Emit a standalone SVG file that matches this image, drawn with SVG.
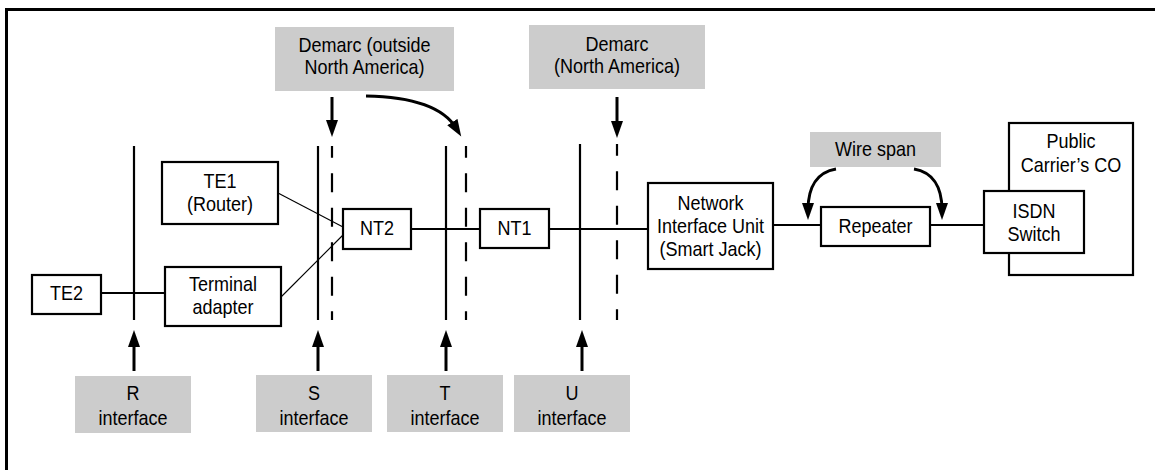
<svg xmlns="http://www.w3.org/2000/svg" width="1155" height="470" viewBox="0 0 1155 470">
  <style>
    text { font-family: "Liberation Sans", Arial, sans-serif; font-size: 20px; fill: #000; text-anchor: middle;
           transform-box: fill-box; transform-origin: center; transform: scaleX(0.9); }
    .box { fill: #fff; stroke: #000; stroke-width: 2.2; }
    .tag { fill: #cccccc; stroke: none; }
    .iface { stroke: #000; stroke-width: 2.2; fill: none; }
    .dash { stroke: #000; stroke-width: 2.2; fill: none; stroke-dasharray: 19 15.5; }
    .link { stroke: #000; stroke-width: 2.2; fill: none; }
    .thin { stroke: #000; stroke-width: 1.1; fill: none; }
    .arrow { stroke: #000; stroke-width: 3; fill: none; marker-end: url(#ah); }
    .frame { stroke: #000; stroke-width: 3; fill: none; }
  </style>
  <defs>
    <marker id="ah" markerUnits="userSpaceOnUse" markerWidth="18" markerHeight="12" refX="7" refY="6" orient="auto">
      <path d="M0,0 L17,6 L0,12 z" fill="#000"/>
    </marker>
  </defs>

  <rect width="1155" height="470" fill="#fff"/>
  <path class="frame" d="M6.5,470 V9.5 H1155"/>

  <!-- reference-point lines (solid) and demarcation lines (dashed) -->
  <g id="interface-lines">
    <line class="iface" x1="134" y1="146" x2="134" y2="320"/>
    <line class="iface" x1="318" y1="146" x2="318" y2="320"/>
    <line class="dash" x1="332" y1="146" x2="332" y2="320" stroke-dashoffset="7.2"/>
    <line class="iface" x1="446" y1="146" x2="446" y2="320"/>
    <line class="dash" x1="466" y1="146" x2="466" y2="320" stroke-dashoffset="7.2"/>
    <line class="iface" x1="580" y1="144" x2="580" y2="320"/>
    <line class="dash" x1="617" y1="144" x2="617" y2="320" stroke-dashoffset="7.2"/>
  </g>

  <!-- connectors -->
  <g id="connectors">
    <line class="link" x1="101" y1="293" x2="165" y2="293"/>
    <line class="thin" x1="278" y1="193" x2="343" y2="227"/>
    <line class="thin" x1="281" y1="297" x2="343" y2="235"/>
    <line class="link" x1="411" y1="229" x2="480" y2="229"/>
    <line class="link" x1="549" y1="229" x2="648" y2="229"/>
    <line class="link" x1="773" y1="225" x2="821" y2="225"/>
    <line class="link" x1="930" y1="225" x2="984" y2="225"/>

    <!-- pointers from the tag boxes -->
    <path class="arrow" d="M332,97 V127"/>
    <path class="arrow" d="M617,97 V128"/>
    <path class="arrow" d="M366,96 C420,97 445,110 456,128"/>
    <path class="arrow" d="M836,169 C818,172 808,186 808,210"/>
    <path class="arrow" d="M914,169 C932,172 942,186 942,210"/>
    <path class="arrow" d="M134,371 V340"/>
    <path class="arrow" d="M318,371 V340"/>
    <path class="arrow" d="M446,371 V340"/>
    <path class="arrow" d="M582,371 V340"/>
  </g>

  <!-- gray tag boxes -->
  <g id="demarc-outside">
    <rect class="tag" x="275" y="27" width="179" height="64"/>
    <text x="364.5" y="52">Demarc (outside</text>
    <text x="364.5" y="74">North America)</text>
  </g>
  <g id="demarc-na">
    <rect class="tag" x="529" y="25" width="176" height="64"/>
    <text x="617" y="51.5">Demarc</text>
    <text x="617" y="73.5">(North America)</text>
  </g>
  <g id="wire-span">
    <rect class="tag" x="810" y="132" width="131" height="35"/>
    <text x="875.5" y="156">Wire span</text>
  </g>
  <g id="r-interface">
    <rect class="tag" x="75" y="376" width="116" height="57"/>
    <text x="133" y="400">R</text>
    <text x="133" y="425">interface</text>
  </g>
  <g id="s-interface">
    <rect class="tag" x="256" y="375" width="116" height="57"/>
    <text x="314" y="400">S</text>
    <text x="314" y="425">interface</text>
  </g>
  <g id="t-interface">
    <rect class="tag" x="387" y="375" width="116" height="57"/>
    <text x="445" y="400">T</text>
    <text x="445" y="425">interface</text>
  </g>
  <g id="u-interface">
    <rect class="tag" x="514" y="375" width="116" height="57"/>
    <text x="572" y="400">U</text>
    <text x="572" y="425">interface</text>
  </g>

  <!-- equipment boxes -->
  <g id="te1">
    <rect class="box" x="162" y="162" width="116" height="62"/>
    <text x="220" y="188">TE1</text>
    <text x="220" y="211">(Router)</text>
  </g>
  <g id="terminal-adapter">
    <rect class="box" x="165" y="267" width="116" height="59"/>
    <text x="223" y="291.5">Terminal</text>
    <text x="223" y="314.5">adapter</text>
  </g>
  <g id="te2">
    <rect class="box" x="32" y="275" width="69" height="39"/>
    <text x="66.5" y="300">TE2</text>
  </g>
  <g id="nt2">
    <rect class="box" x="343" y="209" width="68" height="40"/>
    <text x="377" y="235">NT2</text>
  </g>
  <g id="nt1">
    <rect class="box" x="480" y="209" width="69" height="39"/>
    <text x="514.5" y="235">NT1</text>
  </g>
  <g id="niu">
    <rect class="box" x="648" y="183" width="125" height="86"/>
    <text x="710.5" y="210">Network</text>
    <text x="710.5" y="233">Interface Unit</text>
    <text x="710.5" y="256">(Smart Jack)</text>
  </g>
  <g id="repeater">
    <rect class="box" x="821" y="207" width="109" height="39"/>
    <text x="875.5" y="233">Repeater</text>
  </g>
  <g id="carrier-co">
    <rect class="box" x="1009" y="123" width="124" height="152"/>
    <text x="1071" y="148">Public</text>
    <text x="1071" y="172">Carrier’s CO</text>
  </g>
  <g id="isdn-switch">
    <rect class="box" x="984" y="191" width="100" height="62"/>
    <text x="1034" y="218">ISDN</text>
    <text x="1034" y="241">Switch</text>
  </g>
</svg>
